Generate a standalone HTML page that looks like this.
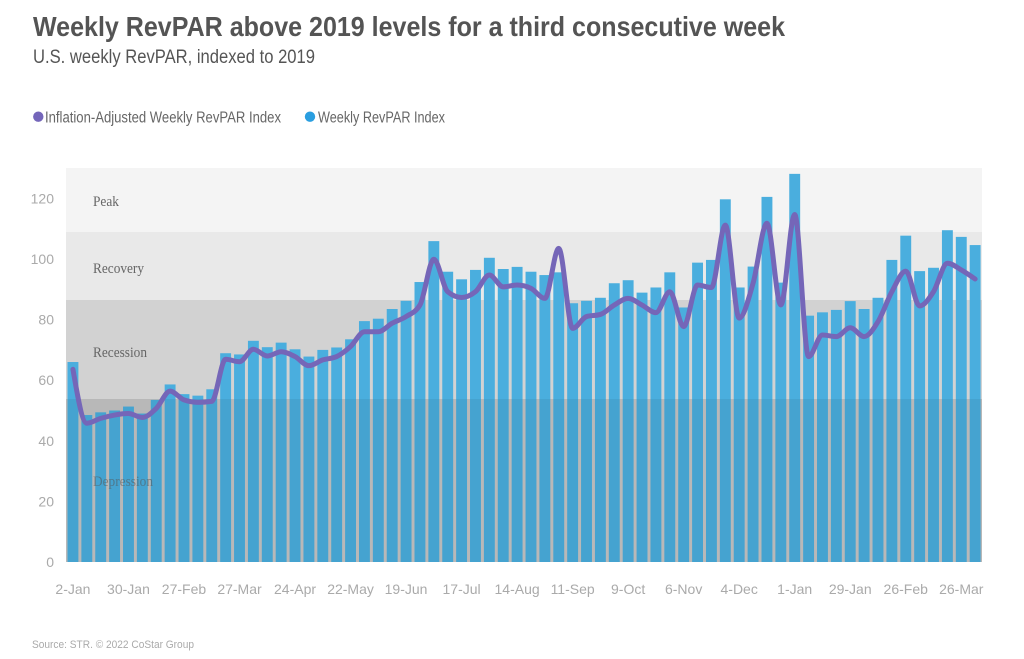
<!DOCTYPE html>
<html><head><meta charset="utf-8"><style>
html,body{margin:0;padding:0;background:#fff;}
svg{display:block;}
</style></head><body>
<svg width="1024" height="659" viewBox="0 0 1024 659" xmlns="http://www.w3.org/2000/svg">
<rect width="1024" height="659" fill="#fff"/>
<text x="33" y="36" font-family="Liberation Sans, sans-serif" font-weight="bold" font-size="28" fill="#545454" textLength="752" lengthAdjust="spacingAndGlyphs">Weekly RevPAR above 2019 levels for a third consecutive week</text>
<text x="33" y="63" font-family="Liberation Sans, sans-serif" font-size="19" fill="#555" textLength="282" lengthAdjust="spacingAndGlyphs">U.S. weekly RevPAR, indexed to 2019</text>
<circle cx="38.3" cy="116.7" r="5.2" fill="#7466ba"/>
<text x="45" y="122.5" font-family="Liberation Sans, sans-serif" font-size="15.5" fill="#666" textLength="236" lengthAdjust="spacingAndGlyphs">Inflation-Adjusted Weekly RevPAR Index</text>
<circle cx="310" cy="116.7" r="5.2" fill="#2a9ee0"/>
<text x="318" y="122.5" font-family="Liberation Sans, sans-serif" font-size="15.5" fill="#666" textLength="127" lengthAdjust="spacingAndGlyphs">Weekly RevPAR Index</text>
<!-- bands -->
<rect x="66" y="168" width="916" height="64" fill="#f4f4f4"/>
<rect x="66" y="232" width="916" height="68" fill="#e9e9e9"/>
<rect x="66" y="300" width="916" height="99" fill="#d2d2d2"/>
<rect x="66" y="399" width="916" height="163" fill="#c4c4c4"/>
<g font-family="Liberation Serif, serif" font-size="15" fill="#666">
<text x="93" y="206" textLength="26" lengthAdjust="spacingAndGlyphs">Peak</text>
<text x="93" y="273" textLength="51" lengthAdjust="spacingAndGlyphs">Recovery</text>
<text x="93" y="357" textLength="54" lengthAdjust="spacingAndGlyphs">Recession</text>
</g>
<!-- bars -->
<g transform="translate(0,562) scale(1,-3.03)" fill="#4aaede">
<rect x="67.5" y="0" width="10.9" height="66"/>
<rect x="81.38" y="0" width="10.9" height="48.5"/>
<rect x="95.26" y="0" width="10.9" height="49.4"/>
<rect x="109.14" y="0" width="10.9" height="50"/>
<rect x="123.02" y="0" width="10.9" height="51.3"/>
<rect x="136.9" y="0" width="10.9" height="49"/>
<rect x="150.78" y="0" width="10.9" height="53.5"/>
<rect x="164.66" y="0" width="10.9" height="58.6"/>
<rect x="178.54" y="0" width="10.9" height="55.4"/>
<rect x="192.42" y="0" width="10.9" height="54.9"/>
<rect x="206.3" y="0" width="10.9" height="57"/>
<rect x="220.18" y="0" width="10.9" height="68.9"/>
<rect x="234.06" y="0" width="10.9" height="68.5"/>
<rect x="247.94" y="0" width="10.9" height="73"/>
<rect x="261.82" y="0" width="10.9" height="70.9"/>
<rect x="275.7" y="0" width="10.9" height="72.4"/>
<rect x="289.58" y="0" width="10.9" height="70.2"/>
<rect x="303.46" y="0" width="10.9" height="67.8"/>
<rect x="317.34" y="0" width="10.9" height="70"/>
<rect x="331.22" y="0" width="10.9" height="70.8"/>
<rect x="345.1" y="0" width="10.9" height="73.5"/>
<rect x="358.98" y="0" width="10.9" height="79.5"/>
<rect x="372.86" y="0" width="10.9" height="80.3"/>
<rect x="386.74" y="0" width="10.9" height="83.5"/>
<rect x="400.62" y="0" width="10.9" height="86.2"/>
<rect x="414.5" y="0" width="10.9" height="92.4"/>
<rect x="428.38" y="0" width="10.9" height="105.9"/>
<rect x="442.26" y="0" width="10.9" height="95.8"/>
<rect x="456.14" y="0" width="10.9" height="93.3"/>
<rect x="470.02" y="0" width="10.9" height="96.4"/>
<rect x="483.9" y="0" width="10.9" height="100.4"/>
<rect x="497.78" y="0" width="10.9" height="96.7"/>
<rect x="511.66" y="0" width="10.9" height="97.4"/>
<rect x="525.54" y="0" width="10.9" height="95.8"/>
<rect x="539.42" y="0" width="10.9" height="94.7"/>
<rect x="553.3" y="0" width="10.9" height="95.6"/>
<rect x="567.18" y="0" width="10.9" height="85.4"/>
<rect x="581.06" y="0" width="10.9" height="86.2"/>
<rect x="594.94" y="0" width="10.9" height="87.2"/>
<rect x="608.82" y="0" width="10.9" height="92"/>
<rect x="622.7" y="0" width="10.9" height="93"/>
<rect x="636.58" y="0" width="10.9" height="88.9"/>
<rect x="650.46" y="0" width="10.9" height="90.6"/>
<rect x="664.34" y="0" width="10.9" height="95.6"/>
<rect x="678.22" y="0" width="10.9" height="84"/>
<rect x="692.1" y="0" width="10.9" height="98.8"/>
<rect x="705.98" y="0" width="10.9" height="99.7"/>
<rect x="719.86" y="0" width="10.9" height="119.7"/>
<rect x="733.74" y="0" width="10.9" height="90.6"/>
<rect x="747.62" y="0" width="10.9" height="97.5"/>
<rect x="761.5" y="0" width="10.9" height="120.5"/>
<rect x="775.38" y="0" width="10.9" height="92.2"/>
<rect x="789.26" y="0" width="10.9" height="128.1"/>
<rect x="803.14" y="0" width="10.9" height="81.3"/>
<rect x="817.02" y="0" width="10.9" height="82.4"/>
<rect x="830.9" y="0" width="10.9" height="83.2"/>
<rect x="844.78" y="0" width="10.9" height="86.1"/>
<rect x="858.66" y="0" width="10.9" height="83.5"/>
<rect x="872.54" y="0" width="10.9" height="87.2"/>
<rect x="886.42" y="0" width="10.9" height="99.7"/>
<rect x="900.3" y="0" width="10.9" height="107.7"/>
<rect x="914.18" y="0" width="10.9" height="96"/>
<rect x="928.06" y="0" width="10.9" height="97.1"/>
<rect x="941.94" y="0" width="10.9" height="109.5"/>
<rect x="955.82" y="0" width="10.9" height="107.3"/>
<rect x="969.7" y="0" width="10.9" height="104.6"/>
</g>
<!-- depression overlay -->
<rect x="66" y="399" width="916" height="163" fill="rgba(0,0,0,0.06)"/>
<text x="93" y="486" font-family="Liberation Serif, serif" font-size="15" fill="#555" fill-opacity="0.55" textLength="60" lengthAdjust="spacingAndGlyphs">Depression</text>
<!-- line -->
<g transform="translate(72.94,562) scale(13.88,-3.03)">
<path fill="none" stroke="#7566b8" stroke-width="5" stroke-linejoin="round" stroke-linecap="round" vector-effect="non-scaling-stroke" d="M0,63.6 C0.333,54.7 0.667,45.8 1,45.8 C1.333,45.8 1.667,46.95 2,47.4 C2.333,47.85 2.667,48.23 3,48.5 C3.333,48.77 3.667,49 4,49 C4.333,49 4.667,47.7 5,47.7 C5.333,47.7 5.667,49.25 6,50.7 C6.333,52.15 6.667,56.4 7,56.4 C7.333,56.4 7.667,54.03 8,53.5 C8.333,52.97 8.667,52.7 9,52.7 C9.333,52.7 9.667,52.8 10,53 C10.333,53.2 10.667,66.9 11,66.9 C11.333,66.9 11.667,66.1 12,66.1 C12.333,66.1 12.667,70.2 13,70.2 C13.333,70.2 13.667,68 14,68 C14.333,68 14.667,69.4 15,69.4 C15.333,69.4 15.667,68.57 16,67.8 C16.333,67.03 16.667,64.8 17,64.8 C17.333,64.8 17.667,66.2 18,66.7 C18.333,67.2 18.667,67.07 19,67.8 C19.333,68.53 19.667,69.73 20,71.1 C20.333,72.47 20.667,76 21,76 C21.333,76 21.667,76 22,76 C22.333,76 22.667,77.97 23,78.8 C23.333,79.63 23.667,80 24,81 C24.333,82 24.667,82.27 25,84.8 C25.333,87.33 25.667,99.9 26,99.9 C26.333,99.9 26.667,90.47 27,89.2 C27.333,87.93 27.667,87.3 28,87.3 C28.333,87.3 28.667,87.97 29,89.2 C29.333,90.43 29.667,94.7 30,94.7 C30.333,94.7 30.667,90.8 31,90.8 C31.333,90.8 31.667,91.4 32,91.4 C32.333,91.4 32.667,91.03 33,90.3 C33.333,89.57 33.667,87 34,87 C34.333,87 34.667,103.5 35,103.5 C35.333,103.5 35.667,77.1 36,77.1 C36.333,77.1 36.667,80.53 37,81 C37.333,81.47 37.667,81.23 38,81.7 C38.333,82.17 38.667,83.92 39,84.8 C39.333,85.68 39.667,87 40,87 C40.333,87 40.667,85.58 41,84.8 C41.333,84.02 41.667,82.3 42,82.3 C42.333,82.3 42.667,89.2 43,89.2 C43.333,89.2 43.667,77.7 44,77.7 C44.333,77.7 44.667,91.4 45,91.4 C45.333,91.4 45.667,90.6 46,90.6 C46.333,90.6 46.667,111.2 47,111.2 C47.333,111.2 47.667,80.5 48,80.5 C48.333,80.5 48.667,86.78 49,92 C49.333,97.22 49.667,111.8 50,111.8 C50.333,111.8 50.667,84.8 51,84.8 C51.333,84.8 51.667,114.7 52,114.7 C52.333,114.7 52.667,67.8 53,67.8 C53.333,67.8 53.667,74.9 54,74.9 C54.333,74.9 54.667,74.4 55,74.4 C55.333,74.4 55.667,77.3 56,77.3 C56.333,77.3 56.667,74.4 57,74.4 C57.333,74.4 57.667,76.83 58,79.3 C58.333,81.77 58.667,86.42 59,89.2 C59.333,91.98 59.667,96 60,96 C60.333,96 60.667,84.5 61,84.5 C61.333,84.5 61.667,86.85 62,89.2 C62.333,91.55 62.667,98.6 63,98.6 C63.333,98.6 63.667,97.27 64,96.4 C64.333,95.53 64.667,94.47 65,93.4"/>
</g>
<!-- y axis labels -->
<g font-family="Liberation Sans, sans-serif" font-size="14" fill="#aaa" text-anchor="end">
<text x="54" y="567">0</text>
<text x="54" y="506.4">20</text>
<text x="54" y="445.8">40</text>
<text x="54" y="385.2">60</text>
<text x="54" y="324.6">80</text>
<text x="54" y="264">100</text>
<text x="54" y="203.4">120</text>
</g>
<!-- x axis labels -->
<g font-family="Liberation Sans, sans-serif" font-size="14" fill="#aaa" text-anchor="middle">
<text x="72.94" y="594">2-Jan</text>
<text x="128.46" y="594">30-Jan</text>
<text x="183.98" y="594">27-Feb</text>
<text x="239.5" y="594">27-Mar</text>
<text x="295.02" y="594">24-Apr</text>
<text x="350.54" y="594">22-May</text>
<text x="406.06" y="594">19-Jun</text>
<text x="461.58" y="594">17-Jul</text>
<text x="517.1" y="594">14-Aug</text>
<text x="572.62" y="594">11-Sep</text>
<text x="628.14" y="594">9-Oct</text>
<text x="683.66" y="594">6-Nov</text>
<text x="739.18" y="594">4-Dec</text>
<text x="794.7" y="594">1-Jan</text>
<text x="850.22" y="594">29-Jan</text>
<text x="905.74" y="594">26-Feb</text>
<text x="961.26" y="594">26-Mar</text>
</g>
<text x="32" y="648" font-family="Liberation Sans, sans-serif" font-size="11" fill="#aaa" textLength="162" lengthAdjust="spacingAndGlyphs">Source: STR. © 2022 CoStar Group</text>
</svg>
</body></html>
